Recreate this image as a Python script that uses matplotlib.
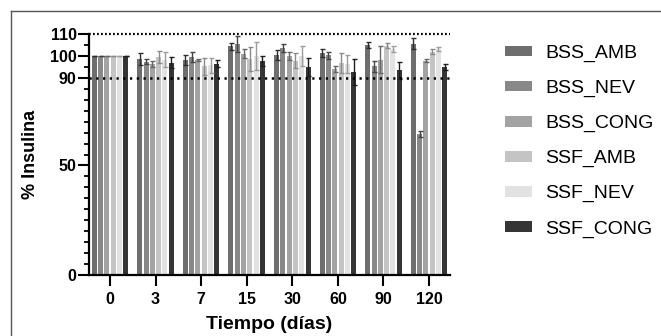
import matplotlib
matplotlib.use('Agg')
import matplotlib.pyplot as plt
import numpy as np
from matplotlib.lines import Line2D
from matplotlib.patches import Patch
from matplotlib.ticker import MultipleLocator, FixedLocator

plt.rcParams['font.family'] = ['Liberation Sans', 'DejaVu Sans']

# days of storage
days = ['0', '3', '7', '15', '30', '60', '90', '120']
series = ['BSS_AMB', 'BSS_NEV', 'BSS_CONG', 'SSF_AMB', 'SSF_NEV', 'SSF_CONG']

# % insulin per series (one value per day)
bss_amb = [100, 98.6, 98.3, 104.3, 100.5, 101.3, 105.0, 105.5]
bss_nev = [100, 97.4, 99.3, 105.5, 103.5, 100.2, 95.2, 64.4]
bss_cong = [100, 96.3, 98.3, 101.0, 100.0, 94.1, 98.3, 97.9]
ssf_amb = [100, 99.5, 95.2, 98.7, 97.8, 96.8, 104.7, 102.0]
ssf_nev = [100, 98.3, 95.7, 100.0, 100.0, 96.3, 103.2, 103.1]
ssf_cong = [100, 96.8, 96.5, 97.5, 95.0, 92.5, 93.4, 95.0]

# error bars (sd)
bss_amb_err = [0, 2.7, 2.3, 1.5, 2.3, 2.0, 1.5, 2.5]
bss_nev_err = [0, 1.0, 2.3, 3.5, 1.8, 1.5, 2.5, 1.5]
bss_cong_err = [0, 1.2, 0.5, 2.0, 2.0, 1.5, 6.0, 0.5]
ssf_amb_err = [0, 2.7, 4.0, 5.5, 3.5, 4.5, 1.0, 1.0]
ssf_nev_err = [0, 3.5, 3.5, 6.5, 4.5, 4.0, 1.5, 1.0]
ssf_cong_err = [0, 2.5, 1.5, 2.3, 4.0, 6.0, 4.0, 1.5]

values = [bss_amb, bss_nev, bss_cong, ssf_amb, ssf_nev, ssf_cong]
errors = [bss_amb_err, bss_nev_err, bss_cong_err, ssf_amb_err, ssf_nev_err, ssf_cong_err]

colors = ['#6e6e6e', '#888888', '#a3a3a3', '#c4c4c4', '#e2e2e2', '#353535']
ecolors = ['#2e2e2e', '#444444', '#666666', '#8a8a8a', '#9c9c9c', '#1e1e1e']

fig = plt.figure(figsize=(6.61, 3.36), dpi=100)
ax = fig.add_axes([89 / 661, 61 / 336, 361 / 661, 241 / 336])

x = np.arange(len(days))
step = 0.138
width = 0.11
for i in range(len(series)):
    pos = x + (i - 2.5) * step
    ax.bar(pos, values[i], width, color=colors[i], zorder=2)
    ax.errorbar(pos, values[i], yerr=errors[i], fmt='none', ecolor=ecolors[i],
                elinewidth=1.0, capsize=1.8, capthick=1.0, zorder=3)

# reference lines
ax.axhline(110, color='black', lw=1.6, linestyle=(0, (0.8, 1.0)), zorder=4, clip_on=False)
ax.axhline(90, color='black', lw=1.8, linestyle=(0, (0.9, 1.8)), zorder=4)

ax.set_xlim(-0.46, 7.46)
ax.set_ylim(0, 110)
ax.set_xticks(x)
ax.set_xticklabels(days)
ax.yaxis.set_major_locator(FixedLocator([0, 50, 90, 100, 110]))
ax.yaxis.set_minor_locator(MultipleLocator(5))

for s in ['top', 'right']:
    ax.spines[s].set_visible(False)
for s in ['left', 'bottom']:
    ax.spines[s].set_linewidth(1.6)

ax.tick_params(axis='both', which='major', length=8, width=1.5, labelsize=11.5, pad=1)
ax.tick_params(axis='y', which='minor', length=3.5, width=1.3)
ax.tick_params(axis='x', pad=4)
for lab in ax.get_xticklabels() + ax.get_yticklabels():
    lab.set_fontweight('bold')

ax.set_xlabel('Tiempo (días)', fontsize=14, fontweight='bold', labelpad=7)
ax.set_ylabel('% Insulina', fontsize=13, fontweight='bold', labelpad=8)

handles = [Patch(facecolor=c, edgecolor='none') for c in colors]
fig.legend(handles, series, loc='upper left', bbox_to_anchor=(505 / 661, 1 - 45 / 336),
           frameon=False, fontsize=14, handlelength=1.39, handleheight=0.46,
           handletextpad=0.67, labelspacing=0.92, borderpad=0, borderaxespad=0)

# border lines of the picture (top and left)
fig.add_artist(Line2D([11 / 661, 1], [1 - 11 / 336, 1 - 11 / 336], color='#555555', lw=1.0))
fig.add_artist(Line2D([11 / 661, 11 / 661], [0, 1 - 11 / 336], color='#555555', lw=1.0))

fig.savefig('out.png', dpi=100)
